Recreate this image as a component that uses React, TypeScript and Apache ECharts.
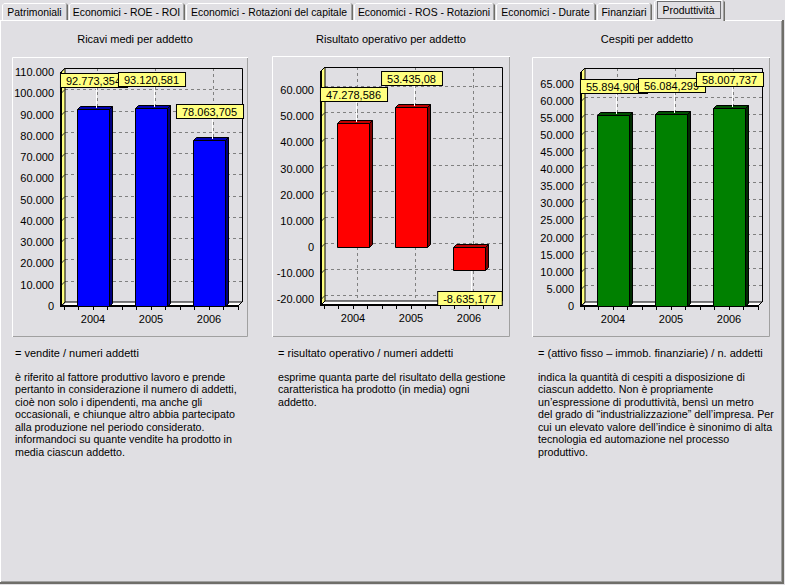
import React, { useEffect, useRef } from "react";
import * as echarts from "echarts";

// ---------- data ----------
const categories = ["2004", "2005", "2006"];
const ricaviValues = [92773.354, 93120.581, 78063.705];
const risultatoValues = [47278.586, 53435.08, -8635.177];
const cespitiValues = [55894.906, 56084.299, 58007.737];

const ricaviTicks = [0, 10000, 20000, 30000, 40000, 50000, 60000, 70000, 80000, 90000, 100000, 110000];
const risultatoTicks = [-20000, -10000, 0, 10000, 20000, 30000, 40000, 50000, 60000];
const cespitiTicks = [0, 5000, 10000, 15000, 20000, 25000, 30000, 35000, 40000, 45000, 50000, 55000, 60000, 65000];

const tabLabels = [
  "Patrimoniali",
  "Economici - ROE - ROI",
  "Economici - Rotazioni del capitale",
  "Economici - ROS - Rotazioni",
  "Economici - Durate",
  "Finanziari",
  "Produttività",
];
const chartTitles = ["Ricavi medi per addetto", "Risultato operativo per addetto", "Cespiti per addetto"];
const formulas = [
  "= vendite / numeri addetti",
  "= risultato operativo / numeri addetti",
  "= (attivo fisso – immob. finanziarie) / n. addetti",
];
const descriptions = [
  [
    "è riferito al fattore produttivo lavoro e prende",
    "pertanto in considerazione il numero di addetti,",
    "cioè non solo i dipendenti, ma anche gli",
    "occasionali, e chiunque altro abbia partecipato",
    "alla produzione nel periodo considerato.",
    "informandoci su quante vendite ha prodotto in",
    "media ciascun addetto.",
  ],
  [
    "esprime quanta parte del risultato della gestione",
    "caratteristica ha prodotto (in media) ogni",
    "addetto.",
  ],
  [
    "indica la quantità di cespiti a disposizione di",
    "ciascun addetto. Non è propriamente",
    "un’espressione di produttività, bensì un metro",
    "del grado di “industrializzazione” dell’impresa. Per",
    "cui un elevato valore dell’indice è sinonimo di alta",
    "tecnologia ed automazione nel processo",
    "produttivo.",
  ],
];

// ---------- layout / style ----------
const FONT = '"Liberation Sans", Arial, Helvetica, sans-serif';
const BG = "#e0dfe3";
const DARK = "#6f6e69";
const SHADOW = "#a0a0a0";

const panels = [
  {
    values: ricaviValues, ticks: ricaviTicks, min: 0, max: 110000,
    px: 12, py: 57, pw: 236, ph: 280, titleX: 135, textX: 15,
    gridLeft: 64, gridTop: 72, gridHeight: 234,
    front: "#0000ff", topC: "#0000b4", side: "#000080",
  },
  {
    values: risultatoValues, ticks: risultatoTicks, min: -22200, max: 67300,
    px: 272, py: 56, pw: 238, ph: 281, titleX: 391, textX: 278,
    gridLeft: 324, gridTop: 71, gridHeight: 234,
    front: "#ff0000", topC: "#c00000", side: "#800000",
  },
  {
    values: cespitiValues, ticks: cespitiTicks, min: 0, max: 68400,
    px: 532, py: 57, pw: 238, ph: 280, titleX: 647, textX: 538,
    gridLeft: 584, gridTop: 72, gridHeight: 234,
    front: "#008000", topC: "#005000", side: "#002c00",
  },
];

const tabEdges = [[2, 68], [69, 185], [186, 353], [354, 495], [496, 596], [597, 652], [654, 725]];

function fmtInt(v: number): string {
  const s = Math.abs(Math.round(v)).toString().replace(/\B(?=(\d{3})+(?!\d))/g, ".");
  return (v < 0 ? "-" : "") + s;
}
function fmtVal(v: number): string {
  const parts = Math.abs(v).toString().split(".");
  const ip = parts[0].replace(/\B(?=(\d{3})+(?!\d))/g, ".");
  return (v < 0 ? "-" : "") + ip + (parts[1] ? "," + parts[1] : "");
}

const DASH = { stroke: "#808080", lineWidth: 1, lineDash: [3, 3], fill: "none" };

function makeFrameRender(ticks: number[], nCat: number) {
  return (params: any, api: any) => {
    const cs = params.coordSys;
    const D = 4;
    const x = Math.round(cs.x);
    const yt = Math.round(cs.y);
    const yb = Math.round(cs.y + cs.height);
    const xr = Math.round(cs.x + cs.width);
    const xf = x - 3;
    const xb = xf + D;
    const ch: any[] = [];
    ch.push({
      type: "polygon",
      shape: { points: [[xf, yb], [xb, yb - D], [xr + D, yb - D], [xr, yb]] },
      style: { fill: "#ffffff", stroke: "#000", lineWidth: 1 },
    });
    for (const t of ticks) {
      const yy = Math.round(api.coord([0, t])[1]) - D + 0.5;
      ch.push({ type: "line", shape: { x1: xb, y1: yy, x2: xr + D, y2: yy }, style: DASH });
    }
    for (let k = 0; k < nCat; k++) {
      const xx = Math.round(api.coord([k, 0])[0]) + D + 0.5;
      ch.push({ type: "line", shape: { x1: xx, y1: yt - D, x2: xx, y2: yb - D }, style: DASH });
    }
    ch.push({
      type: "polyline",
      shape: { points: [[xb, yt - D + 0.5], [xr + D + 0.5, yt - D + 0.5], [xr + D + 0.5, yb - D]] },
      style: { stroke: "#000", lineWidth: 1, fill: "none" },
    });
    ch.push({
      type: "polygon",
      shape: { points: [[xf, yb], [xf, yt], [xb, yt - D], [xb, yb - D]] },
      style: { fill: "#ffff80", stroke: "#000", lineWidth: 1 },
    });
    for (const t of ticks) {
      const yy = Math.round(api.coord([0, t])[1]) + 0.5;
      ch.push({ type: "line", shape: { x1: xf, y1: yy, x2: xb, y2: yy - D }, style: { stroke: "#303030", lineWidth: 1, fill: "none" } });
    }
    ch.push({ type: "line", shape: { x1: xf, y1: yt, x2: xf, y2: yb + 1 }, style: { stroke: "#000", lineWidth: 2, fill: "none" } });
    ch.push({ type: "line", shape: { x1: xf - 1, y1: yb, x2: xr, y2: yb }, style: { stroke: "#000", lineWidth: 2, fill: "none" } });
    ch.push({ type: "line", shape: { x1: xr, y1: yb, x2: xr + D, y2: yb - D }, style: { stroke: "#000", lineWidth: 1, fill: "none" } });
    return { type: "group", children: ch };
  };
}

function makeBarRender(front: string, topC: string, side: string) {
  return (params: any, api: any) => {
    const k = api.value(0);
    const v = api.value(1);
    const p = api.coord([k, v]);
    const p0 = api.coord([k, 0]);
    const bw = Math.round(api.size([1, 0])[0] * 0.55);
    const d = 3;
    const x1 = Math.round(p[0] - bw / 2) + 0.5;
    const x2 = x1 + bw;
    const top = Math.round(Math.min(p[1], p0[1])) + 0.5;
    const bot = Math.round(Math.max(p[1], p0[1])) + 0.5;
    return {
      type: "group",
      children: [
        { type: "polygon", shape: { points: [[x2, top], [x2 + d, top - d], [x2 + d, bot - d], [x2, bot]] }, style: { fill: side, stroke: "#000", lineWidth: 1 } },
        { type: "polygon", shape: { points: [[x1, top], [x1 + d, top - d], [x2 + d, top - d], [x2, top]] }, style: { fill: topC, stroke: "#000", lineWidth: 1 } },
        { type: "rect", shape: { x: x1, y: top, width: bw, height: bot - top }, style: { fill: front, stroke: "#000", lineWidth: 1 } },
      ],
    };
  };
}

function labelRender(params: any, api: any) {
  const k = api.value(0);
  const v = api.value(1);
  const p = api.coord([k, v]);
  const cx = Math.round(p[0]);
  const gap = 22;
  const textStyle: any = {
    text: fmtVal(v),
    font: "11px " + FONT,
    fill: "#000",
    align: "center",
    textAlign: "center",
    backgroundColor: "#ffff80",
    borderColor: "#000",
    borderWidth: 1,
    padding: [1, 6, 0, 5],
    lineHeight: 12,
  };
  if (v >= 0) {
    const boxBottom = Math.round(p[1]) - gap;
    return {
      type: "group",
      children: [
        { type: "line", shape: { x1: cx + 3.5, y1: boxBottom, x2: cx + 3.5, y2: Math.round(p[1]) - 1 }, style: { stroke: "#ffffff", lineWidth: 1, fill: "none" } },
        { type: "text", x: cx + 1, y: boxBottom, style: { ...textStyle, verticalAlign: "bottom", textVerticalAlign: "bottom" } },
      ],
    };
  }
  const boxTop = Math.round(p[1]) + gap;
  return {
    type: "group",
    children: [
      { type: "line", shape: { x1: cx + 2.5, y1: Math.round(p[1]) + 1, x2: cx + 2.5, y2: boxTop }, style: { stroke: "#ffffff", lineWidth: 1, fill: "none" } },
      { type: "text", x: cx + 1, y: boxTop, style: { ...textStyle, verticalAlign: "top", textVerticalAlign: "top" } },
    ],
  };
}

function buildOption() {
  const grid: any[] = [];
  const xAxis: any[] = [];
  const yAxis: any[] = [];
  const series: any[] = [];
  const graphic: any[] = [];

  panels.forEach((pn, i) => {
    grid.push({ left: pn.gridLeft, top: pn.gridTop, width: 174, height: pn.gridHeight, containLabel: false });
    xAxis.push({
      type: "category", gridIndex: i, data: categories, position: "bottom",
      axisLine: { show: false }, axisTick: { show: false }, splitLine: { show: false },
      axisLabel: { margin: 7, fontSize: 11, fontFamily: FONT, color: "#000" },
    });
    yAxis.push({
      type: "value", gridIndex: i, min: pn.min, max: pn.max, offset: 3,
      axisLine: { show: false }, splitLine: { show: false },
      axisTick: { show: true, length: 4, customValues: pn.ticks, lineStyle: { color: "#000" } },
      axisLabel: { customValues: pn.ticks, formatter: (v: number) => fmtInt(v), margin: 7, fontSize: 11, fontFamily: FONT, color: "#000" },
    });
  });
  panels.forEach((pn, i) => {
    xAxis.push({
      type: "value", gridIndex: i, min: 0, max: 12, interval: 1, position: "bottom",
      axisLine: { show: false }, splitLine: { show: false }, axisLabel: { show: false },
      axisTick: { show: true, length: 4, lineStyle: { color: "#000" } },
    });
  });

  panels.forEach((pn, i) => {
    const data = pn.values.map((v, k) => [k, v]);
    series.push({
      type: "custom", name: "frame" + i, xAxisIndex: i, yAxisIndex: i, z: 1, silent: true,
      data: [[0, 0]], renderItem: makeFrameRender(pn.ticks, categories.length),
    });
    series.push({
      type: "custom", name: chartTitles[i], xAxisIndex: i, yAxisIndex: i, z: 2,
      data, renderItem: makeBarRender(pn.front, pn.topC, pn.side),
    });
    series.push({
      type: "custom", name: "labels" + i, xAxisIndex: i, yAxisIndex: i, z: 3,
      data, renderItem: labelRender,
    });

    graphic.push({
      type: "polyline", silent: true,
      shape: { points: [[pn.px + 0.5, pn.py + pn.ph], [pn.px + 0.5, pn.py + 0.5], [pn.px + pn.pw, pn.py + 0.5]] },
      style: { stroke: "#ffffff", lineWidth: 1, fill: "none" },
    });
    graphic.push({
      type: "polyline", silent: true,
      shape: { points: [[pn.px + 1, pn.py + pn.ph - 0.5], [pn.px + pn.pw - 0.5, pn.py + pn.ph - 0.5], [pn.px + pn.pw - 0.5, pn.py + 1]] },
      style: { stroke: SHADOW, lineWidth: 1, fill: "none" },
    });
    graphic.push({
      type: "text", x: pn.titleX, y: 39,
      style: { text: chartTitles[i], font: "11px " + FONT, fill: "#000", align: "center", textAlign: "center", verticalAlign: "middle", textVerticalAlign: "middle" },
    });
    graphic.push({
      type: "text", x: pn.textX, y: 353,
      style: { text: formulas[i], font: "11px " + FONT, fill: "#000", align: "left", textAlign: "left", verticalAlign: "middle", textVerticalAlign: "middle" },
    });
    graphic.push({
      type: "text", x: pn.textX, y: 370.5,
      style: { text: descriptions[i].join("\n"), font: "10.7px " + FONT, lineHeight: 12.5, fill: "#000", align: "left", textAlign: "left", verticalAlign: "top", textVerticalAlign: "top" },
    });
  });

  graphic.push({ type: "line", silent: true, shape: { x1: 0, y1: 20.5, x2: 782, y2: 20.5 }, style: { stroke: "#ffffff", lineWidth: 1 } });
  graphic.push({ type: "line", silent: true, shape: { x1: 0.5, y1: 20, x2: 0.5, y2: 582 }, style: { stroke: "#ffffff", lineWidth: 1 } });
  graphic.push({ type: "line", silent: true, shape: { x1: 781.5, y1: 21, x2: 781.5, y2: 582 }, style: { stroke: SHADOW, lineWidth: 1 } });
  graphic.push({ type: "line", silent: true, shape: { x1: 1, y1: 581.5, x2: 782, y2: 581.5 }, style: { stroke: SHADOW, lineWidth: 1 } });
  graphic.push({ type: "line", silent: true, shape: { x1: 783, y1: 20, x2: 783, y2: 584 }, style: { stroke: DARK, lineWidth: 2 } });
  graphic.push({ type: "line", silent: true, shape: { x1: 0, y1: 583, x2: 784, y2: 583 }, style: { stroke: DARK, lineWidth: 2 } });

  tabLabels.forEach((label, i) => {
    const [l, r] = tabEdges[i];
    const selected = i === tabLabels.length - 1;
    const tabFont = "10.4px " + FONT;
    if (selected) {
      graphic.push({ type: "rect", silent: true, shape: { x: l, y: 0, width: r - l, height: 22 }, style: { fill: BG } });
      graphic.push({ type: "polyline", silent: true, shape: { points: [[l + 0.5, 21], [l + 0.5, 2], [l + 2, 0.5], [r - 2, 0.5]] }, style: { stroke: "#ffffff", lineWidth: 1, fill: "none" } });
      graphic.push({ type: "line", silent: true, shape: { x1: r - 1.5, y1: 2, x2: r - 1.5, y2: 21 }, style: { stroke: SHADOW, lineWidth: 1 } });
      graphic.push({ type: "polyline", silent: true, shape: { points: [[r - 2, 0.5], [r - 0.5, 2], [r - 0.5, 21]] }, style: { stroke: DARK, lineWidth: 1, fill: "none" } });
      graphic.push({ type: "rect", silent: true, shape: { x: l + 3.5, y: 1.5, width: r - l - 8, height: 17 }, style: { fill: "none", stroke: "#000", lineWidth: 1, lineDash: [1, 1] } });
      graphic.push({ type: "text", x: (l + r) / 2 - 1, y: 10, style: { text: label, font: tabFont, fill: "#000", align: "center", textAlign: "center", verticalAlign: "middle", textVerticalAlign: "middle" } });
    } else {
      graphic.push({ type: "polyline", silent: true, shape: { points: [[l + 0.5, 20], [l + 0.5, 5], [l + 2, 3.5], [r - 2, 3.5]] }, style: { stroke: "#ffffff", lineWidth: 1, fill: "none" } });
      graphic.push({ type: "line", silent: true, shape: { x1: r - 1.5, y1: 5, x2: r - 1.5, y2: 20 }, style: { stroke: SHADOW, lineWidth: 1 } });
      graphic.push({ type: "polyline", silent: true, shape: { points: [[r - 2, 3.5], [r - 0.5, 5], [r - 0.5, 20]] }, style: { stroke: DARK, lineWidth: 1, fill: "none" } });
      graphic.push({ type: "text", x: (l + r) / 2 - 0.5, y: 12, style: { text: label, font: tabFont, fill: "#000", align: "center", textAlign: "center", verticalAlign: "middle", textVerticalAlign: "middle" } });
    }
  });

  return {
    animation: false,
    backgroundColor: BG,
    textStyle: { fontFamily: FONT },
    grid,
    xAxis,
    yAxis,
    series,
    graphic: { elements: graphic },
  };
}

export default function App() {
  const ref = useRef<HTMLDivElement>(null);
  useEffect(() => {
    if (!ref.current) return;
    const chart = echarts.init(ref.current, undefined, { renderer: "svg" });
    chart.setOption(buildOption() as any);
    return () => chart.dispose();
  }, []);
  return (
    <div
      ref={ref}
      style={{ position: "fixed", left: 0, top: 0, width: 785, height: 585, background: BG }}
    />
  );
}
